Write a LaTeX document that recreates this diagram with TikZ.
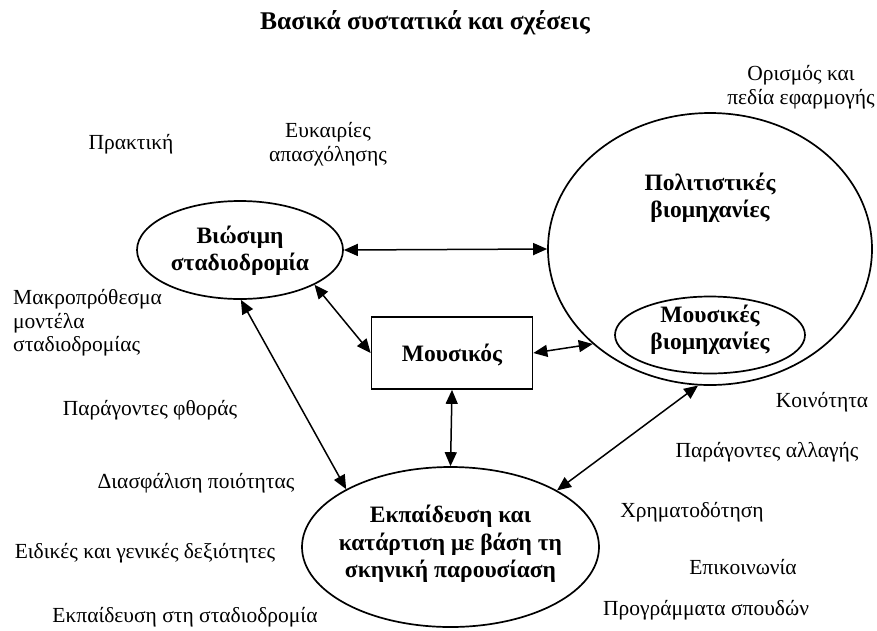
\documentclass[tikz,border=0pt]{standalone}
\usepackage{fontspec}
\setmainfont{Liberation Serif}
\usetikzlibrary{shapes.geometric,arrows.meta}
\begin{document}
\begin{tikzpicture}[x=1pt,y=-1pt,
  shapeell/.style={draw,ellipse,line width=1.7pt,inner sep=0pt},
  boxlbl/.style={font=\fontsize{23.5}{27.5}\selectfont\bfseries,align=center,inner sep=0pt},
  note/.style={font=\fontsize{21.5}{23.5}\selectfont,align=center,inner sep=0pt},
  link/.style={line width=1.5pt,{Triangle[length=14pt,width=12pt]}-{Triangle[length=14pt,width=12pt]}}]
\useasboundingbox (0,0) rectangle (877,630);
% title
\node[boxlbl,font=\fontsize{25.5}{30}\selectfont\bfseries] (title) at (425,23) {Βασικά συστατικά και σχέσεις};
% main shapes
\node[shapeell,minimum width=206pt,minimum height=98pt] (bio) at (240,250) {};
\node[boxlbl] (biot) at (240,251) {Βιώσιμη\\σταδιοδρομία};
\node[shapeell,minimum width=324pt,minimum height=272pt] (cult) at (710,249) {};
\node[boxlbl] (cultt) at (710,198) {Πολιτιστικές\\βιομηχανίες};
\node[shapeell,minimum width=190pt,minimum height=77pt] (musind) at (710,335) {};
\node[boxlbl] (musindt) at (710,330) {Μουσικές\\βιομηχανίες};
\node[draw,line width=1.7pt,minimum width=161pt,minimum height=72pt,inner sep=0pt] (mus) at (452,353) {};
\node[boxlbl] (must) at (452,355) {Μουσικός};
\node[shapeell,minimum width=297pt,minimum height=160pt] (edu) at (450.5,547) {};
\node[boxlbl] (edut) at (450.5,544) {Εκπαίδευση και\\κατάρτιση με βάση τη\\σκηνική παρουσίαση};
% connectors
\draw[link] (bio.east) -- (cult.west);
\draw[link] (bio.335) -- (mus.west);
\draw[link] (bio.271) -- (edu.151);
\draw[link] (mus.south) -- (edu.north);
\draw[link] (mus.east) -- (cult.219);
\draw[link] (edu.28) -- (cult.265);
% notes
\node[note] (defn) at (801,87) {Ορισμός και\\πεδία εφαρμογής};
\node[note] (prak) at (131,144) {Πρακτική};
\node[note] (eukair) at (328,144) {Ευκαιρίες\\απασχόλησης};
\node[note,align=left,anchor=west] (makro) at (13,323) {Μακροπρόθεσμα\\μοντέλα\\σταδιοδρομίας};
\node[note] (fthora) at (150,410) {Παράγοντες φθοράς};
\node[note] (diasf) at (196,483) {Διασφάλιση ποιότητας};
\node[note] (dexi) at (145,553) {Ειδικές και γενικές δεξιότητες};
\node[note] (ekp) at (185,617) {Εκπαίδευση στη σταδιοδρομία};
\node[note] (koin) at (822,402) {Κοινότητα};
\node[note] (allag) at (767,452) {Παράγοντες αλλαγής};
\node[note] (xrim) at (692,512) {Χρηματοδότηση};
\node[note] (epik) at (743,567) {Επικοινωνία};
\node[note] (progr) at (706,610) {Προγράμματα σπουδών};
\end{tikzpicture}
\end{document}
